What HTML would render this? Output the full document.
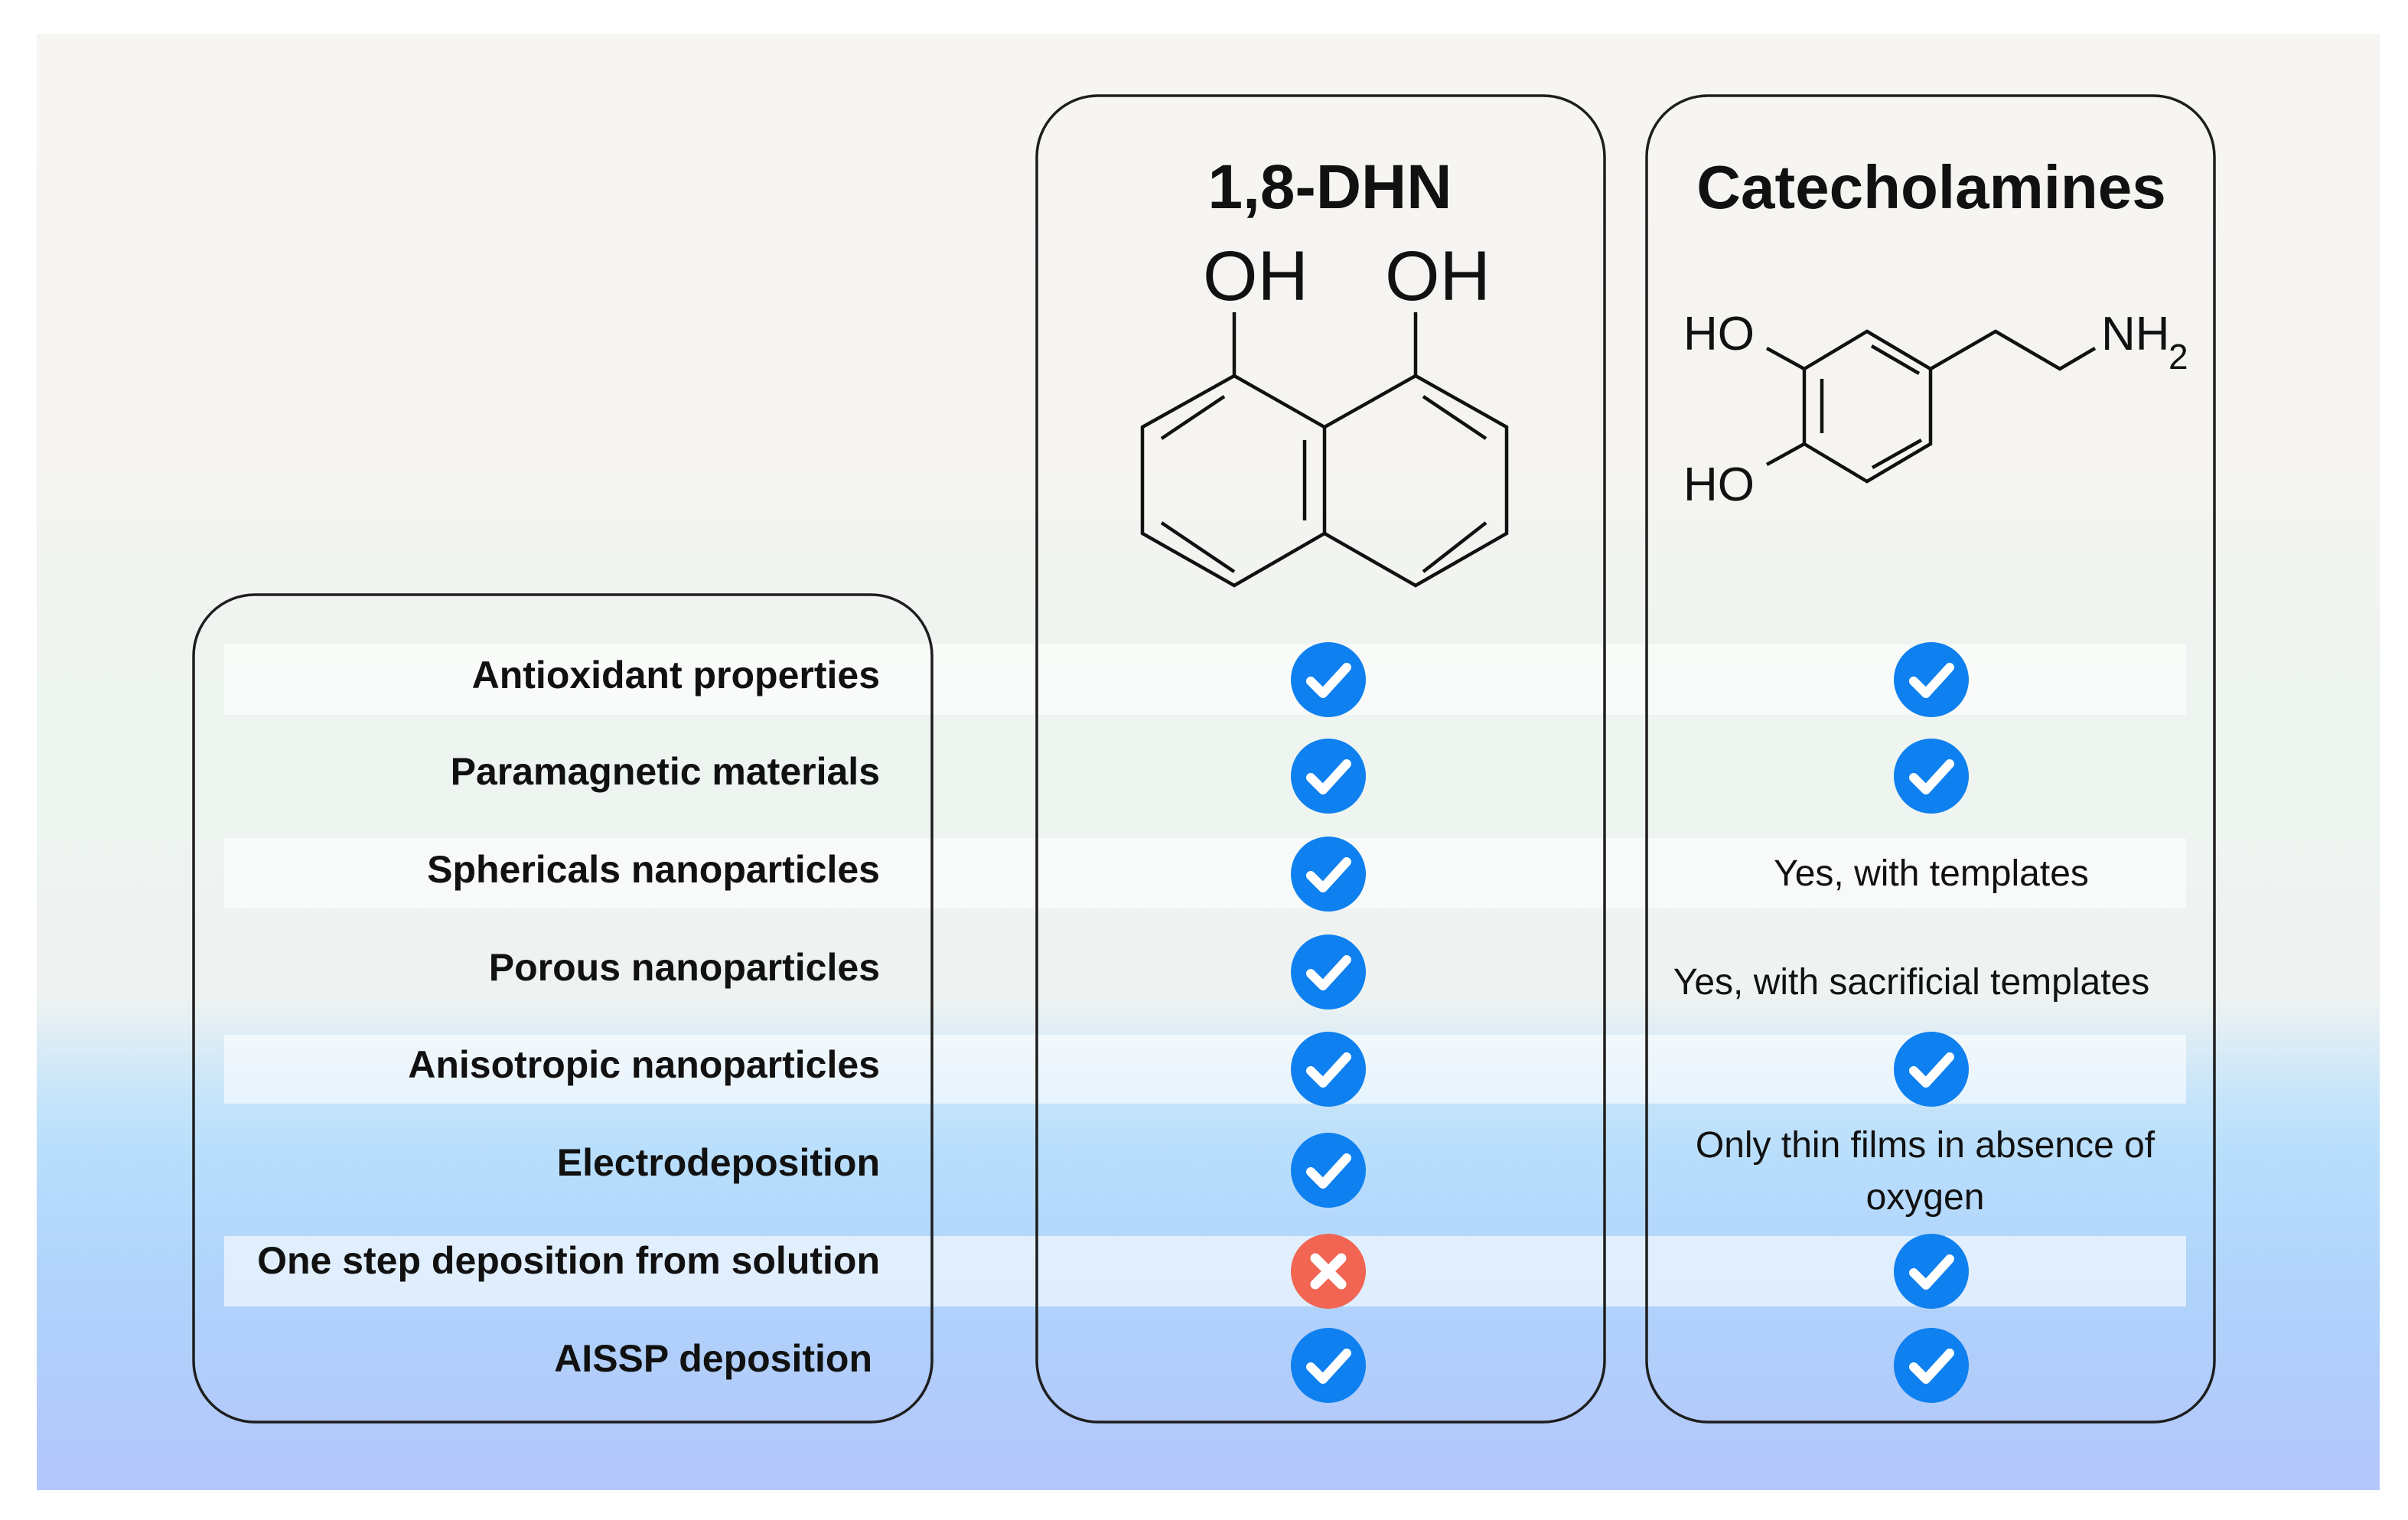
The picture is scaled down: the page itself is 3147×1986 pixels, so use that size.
<!DOCTYPE html>
<html><head><meta charset="utf-8"><style>
html,body{margin:0;padding:0;background:#fff;}
svg{display:block;}
</style></head><body>
<svg width="3147" height="1986" viewBox="0 0 3147 1986" xmlns="http://www.w3.org/2000/svg">
<defs>
<linearGradient id="bg" x1="0" y1="0" x2="0" y2="1">
<stop offset="0" stop-color="#f6f5f2"/>
<stop offset="0.30" stop-color="#f5f4f1"/>
<stop offset="0.45" stop-color="#eef4f0"/>
<stop offset="0.66" stop-color="#eef3f1"/>
<stop offset="0.73" stop-color="#c6e4fa"/>
<stop offset="0.77" stop-color="#b8defc"/>
<stop offset="0.87" stop-color="#b0d2fb"/>
<stop offset="1" stop-color="#b4c6fb"/>
</linearGradient>
<g id="chk"><circle r="49" fill="#0f80ef"/><path d="M-23,2 L-7,18 L24,-16" fill="none" stroke="#fff" stroke-width="12" stroke-linecap="round" stroke-linejoin="round"/></g>
<g id="crs"><circle r="49" fill="#f26552"/><path d="M-17,-17 L17,17 M17,-17 L-17,17" stroke="#fff" stroke-width="13" stroke-linecap="round"/></g>
</defs>
<rect x="48" y="44" width="3062" height="1903" fill="url(#bg)"/>
<g fill="#ffffff" fill-opacity="0.6">
<rect x="293" y="842" width="2564" height="92"/>
<rect x="293" y="1095" width="2564" height="92"/>
<rect x="293" y="1352" width="2564" height="90"/>
<rect x="293" y="1615" width="2564" height="92"/>
</g>
<g fill="none" stroke="#1e1e1e" stroke-width="3.5">
<rect x="253" y="777" width="965" height="1081" rx="80"/>
<rect x="1355" y="125" width="742" height="1733" rx="80"/>
<rect x="2152" y="125" width="742" height="1733" rx="80"/>
</g>
<g font-family="Liberation Sans, sans-serif" font-weight="bold" fill="#111" text-anchor="middle">
<text x="1738" y="272" font-size="82">1,8-DHN</text>
<text x="2524" y="272" font-size="80">Catecholamines</text>
</g>
<!-- DHN molecule -->
<g fill="none" stroke="#111" stroke-width="4.5" stroke-linejoin="miter">
<path d="M1613,408 L1613,491 M1850,408 L1850,491"/>
<path d="M1613,491 L1493,558 L1493,697 L1613,765 L1731,697 L1731,558 Z"/>
<path d="M1731,558 L1850,491 L1969,558 L1969,697 L1850,765 L1731,697"/>
<path d="M1518,573 L1600,518 M1518,683 L1613,747 M1705,575 L1705,680 M1860,518 L1942,573 M1860,747 L1942,683"/>
</g>
<g font-family="Liberation Sans, sans-serif" font-size="92" fill="#111" text-anchor="middle">
<text x="1641" y="392">OH</text>
<text x="1879" y="392">OH</text>
</g>
<!-- Catecholamine molecule -->
<g fill="none" stroke="#111" stroke-width="4.5">
<path d="M2440,433 L2523,482 L2523,580 L2440,629 L2358,580 L2358,482 Z"/>
<path d="M2523,482 L2608,433 L2692,482 L2738,455"/>
<path d="M2358,482 L2309,455 M2358,580 L2309,607"/>
<path d="M2446,452 L2508,488 M2381,495 L2381,566 M2447,611 L2511,575"/>
</g>
<g font-family="Liberation Sans, sans-serif" font-size="62" fill="#111">
<text x="2200" y="457">HO</text>
<text x="2200" y="654">HO</text>
<text x="2746" y="457">NH</text>
<text x="2834" y="482" font-size="46">2</text>
</g>
<!-- row labels -->
<g font-family="Liberation Sans, sans-serif" font-weight="bold" font-size="50" fill="#111" text-anchor="end">
<text x="1150" y="899">Antioxidant properties</text>
<text x="1150" y="1025">Paramagnetic materials</text>
<text x="1150" y="1153">Sphericals nanoparticles</text>
<text x="1150" y="1281">Porous nanoparticles</text>
<text x="1150" y="1408">Anisotropic nanoparticles</text>
<text x="1150" y="1536">Electrodeposition</text>
<text x="1150" y="1664">One step deposition from solution</text>
<text x="1140" y="1792">AISSP deposition</text>
</g>
<!-- DHN icons -->
<use href="#chk" x="1736" y="888"/>
<use href="#chk" x="1736" y="1014"/>
<use href="#chk" x="1736" y="1142"/>
<use href="#chk" x="1736" y="1270"/>
<use href="#chk" x="1736" y="1397"/>
<use href="#chk" x="1736" y="1529"/>
<use href="#crs" x="1736" y="1661"/>
<use href="#chk" x="1736" y="1784"/>
<!-- Catecholamine column -->
<use href="#chk" x="2524" y="888"/>
<use href="#chk" x="2524" y="1014"/>
<use href="#chk" x="2524" y="1397"/>
<use href="#chk" x="2524" y="1661"/>
<use href="#chk" x="2524" y="1784"/>
<g font-family="Liberation Sans, sans-serif" font-size="48" fill="#111" text-anchor="middle">
<text x="2524" y="1157">Yes, with templates</text>
<text x="2498" y="1299">Yes, with sacrificial templates</text>
<text x="2516" y="1512">Only thin films in absence of</text>
<text x="2516" y="1580">oxygen</text>
</g>
</svg>
</body></html>
